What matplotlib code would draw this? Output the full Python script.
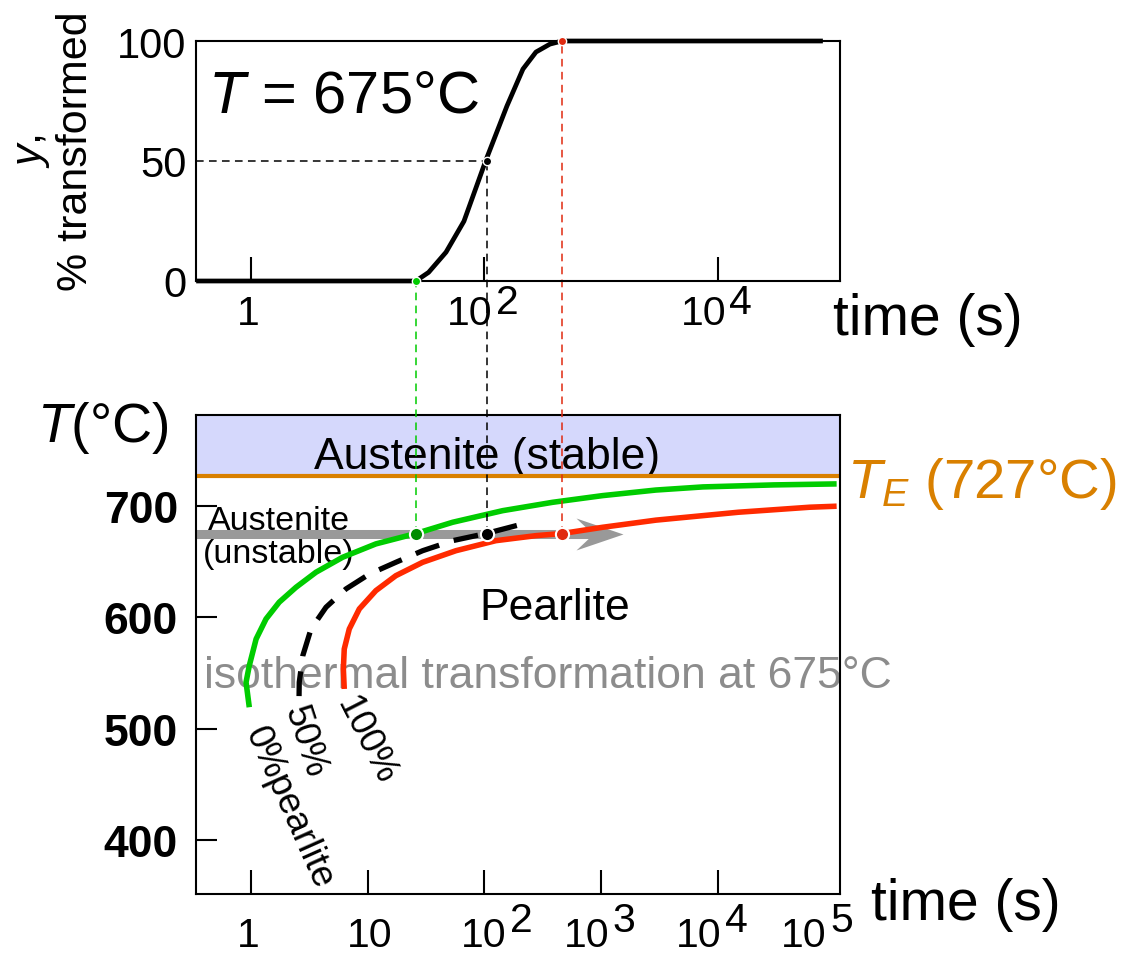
import matplotlib
matplotlib.use('Agg')
import matplotlib.pyplot as plt
from matplotlib.path import Path
from matplotlib.transforms import blended_transform_factory
import numpy as np

plt.rcParams['font.family'] = ['Liberation Sans', 'DejaVu Sans']
plt.rcParams['mathtext.fontset'] = 'custom'
plt.rcParams['mathtext.rm'] = 'Liberation Sans'
plt.rcParams['mathtext.it'] = 'Liberation Sans:italic'
plt.rcParams['mathtext.bf'] = 'Liberation Sans:bold'

# ---- data ----
# top panel: fraction transformed at 675 C
frac_time = [0.34, 26, 33.4, 47.1, 67.1, 103.6, 156.7, 215, 278, 366, 465, 8.0e4]
frac_val = [0, 0, 3.6, 12.0, 24.9, 50.4, 72.9, 88.3, 95.4, 98.7, 100, 100]

# bottom panel: TTT curves (time in s, temperature in C)
start_time = [0.97, 0.91, 0.97, 1.11, 1.35, 1.75, 2.44, 3.62, 6.12, 11.8, 26, 53.7, 144, 386,
              1036, 2965, 7500, 30400, 1.05e5]
start_temp = [519.2, 541.6, 556.5, 580.4, 598.4, 613.4, 626.8, 640.3, 653.7, 665.7, 675, 685.1,
              695.5, 703.0, 709.0, 714.0, 716.8, 718.6, 719.5]

half_time = [2.59, 2.6, 2.79, 3.28, 4.41, 6.54, 10.4, 17.5, 29.7, 53.7, 103.6, 243]
half_temp = [529.2, 541.6, 565.5, 589.4, 608.9, 625.3, 638.7, 649.2, 659.6, 668.6, 675, 685.1]

end_time = [6.32, 6.21, 6.32, 6.98, 8.51, 11.8, 17.5, 29.7, 57.3, 126, 278, 465, 1036, 2965,
            15140, 61900, 1.05e5]
end_temp = [535.6, 553.5, 571.4, 589.4, 607.4, 623.8, 637.2, 649.2, 659.6, 668.6, 673.1, 675,
            680.6, 687.0, 694.1, 698.6, 699.5]

T_iso = 675
T_eut = 727
t0, t50, t100 = 26, 105, 465
arrow_tip = 1550
arrow_shaft_end = 908

top_ticks = [1, 1e2, 1e4]
top_labels = [('1', ''), ('10', '2'), ('10', '4')]
top_label_shift = [-1.5, 0, 0]
bot_ticks = [1, 10, 1e2, 1e3, 1e4]
bot_label_pos = [1, 10, 1e2, 1e3, 1e4, 1e5]
bot_labels = [('1', ''), ('10', ''), ('10', '2'), ('10', '3'), ('10', '4'), ('10', '5')]
bot_label_shift = [-1.5, 1.5, 10, 0, -3.5, -11.5]
temp_ticks = [400, 500, 600, 700]

green = '#00cc00'
dkgreen = '#008c00'
red = '#ff2a00'
dkred = '#e02a10'
orange = '#d98000'
lav = '#d5d8fc'
grey = '#999999'

W, H = 1129, 954
fig = plt.figure(figsize=(W / 100, H / 100), dpi=100)


def fx(p):
    return p / W


def fy(p):
    return 1 - p / H


ax_bot = fig.add_axes([fx(196), fy(895), (840 - 196) / W, (895 - 416) / H])
ax_top = fig.add_axes([fx(196), fy(282), (840 - 196) / W, (282 - 42) / H])
ax_top.set_zorder(2)
ax_top.patch.set_alpha(0)

xl = (10 ** -0.47, 10 ** 5.05)
for ax in (ax_top, ax_bot):
    ax.set_xscale('log')
    ax.set_xlim(xl)
    for s in ax.spines.values():
        s.set_linewidth(1.5)
    ax.minorticks_off()

ax_top.set_ylim(0, 100)
ax_bot.set_ylim(351.7, 781.3)

# ---- top panel ----
ax_top.plot(frac_time, frac_val, color='black', lw=3.4, solid_capstyle='butt', solid_joinstyle='round',
            zorder=3, clip_on=False)
ax_top.plot([xl[0], t50], [50, 50], color='black', lw=1.1, ls=(0, (5, 3.5)), zorder=2)
ax_top.plot([t0], [0], 'o', ms=6, color=green, mec='white', mew=1, zorder=5, clip_on=False)
ax_top.plot([t50], [50], 'o', ms=6, color='black', mec='white', mew=1, zorder=5, clip_on=False)
ax_top.plot([t100], [100], 'o', ms=6, color=dkred, mec='white', mew=1, zorder=5, clip_on=False)

ax_top.set_xticks(top_ticks)
ax_top.set_xticklabels([])
ax_top.tick_params(axis='x', direction='in', length=17, width=1.5)
ax_top.set_yticks([0, 50, 100])
ax_top.set_yticklabels(['0', '50', '100'], fontsize=30)
ax_top.tick_params(axis='y', length=0, pad=7)

ax_top.text(fx(343), fy(97), '$T$ = 675°C', transform=fig.transFigure, fontsize=43,
            ha='center', va='center')


def time_labels(ax, ticks, labels, shifts, yoff, rise, fs):
    tr = blended_transform_factory(ax.transData, ax.transAxes)
    for t, (base, ex), dx in zip(ticks, labels, shifts):
        if not ex:
            ax.annotate(base, (t, 0), xycoords=tr, xytext=(dx, yoff), textcoords='offset points',
                        ha='center', va='center', fontsize=fs, annotation_clip=False)
        else:
            ax.annotate(base, (t, 0), xycoords=tr, xytext=(dx + 0.21 * fs, yoff), textcoords='offset points',
                        ha='right', va='center', fontsize=fs, annotation_clip=False)
            ax.annotate(ex, (t, 0), xycoords=tr, xytext=(dx + 0.29 * fs, yoff + rise), textcoords='offset points',
                        ha='left', va='center', fontsize=fs, annotation_clip=False)


time_labels(ax_top, top_ticks, top_labels, top_label_shift, -23, 8, 29.5)
fig.text(fx(833), fy(320), 'time (s)', fontsize=41, ha='left', va='center')
fig.text(fx(54), fy(151), '$y$,\n% transformed', rotation=90, fontsize=31, ha='center', va='center',
         multialignment='center', linespacing=1.1)

# ---- bottom panel ----
ax_bot.axhspan(T_eut, 781.3, color=lav, lw=0, zorder=0.5)
ax_bot.axhline(T_eut, color=orange, lw=3, zorder=2)

# isothermal arrow
ax_bot.plot([xl[0], arrow_shaft_end], [T_iso, T_iso], color=grey, lw=6.5, solid_capstyle='butt', zorder=2.5)
head = Path([(0, 0), (-47, 16), (-30, 0), (-47, -16), (0, 0)],
            [Path.MOVETO, Path.LINETO, Path.LINETO, Path.LINETO, Path.CLOSEPOLY])
ax_bot.plot([arrow_tip], [T_iso], marker=head, ms=67.7, color=grey, mew=0, zorder=2.5, clip_on=False)

ax_bot.plot(start_time, start_temp, color=green, lw=4, zorder=3, solid_capstyle='butt', solid_joinstyle='round')
ax_bot.plot(half_time, half_temp, color='black', lw=3.8, ls=(0, (4.7, 2.9)), zorder=3)
ax_bot.plot(end_time, end_temp, color=red, lw=4, zorder=3, solid_capstyle='butt', solid_joinstyle='round')

# dashed connectors from top panel points down to the isotherm
for t, v, c in [(t0, 0, green), (t50, 50, 'black'), (t100, 100, dkred)]:
    disp = ax_top.transData.transform((t, v))
    _, ytop = ax_bot.transData.inverted().transform(disp)
    ax_bot.plot([t, t], [T_iso, ytop], color=c, lw=1.1, ls=(0, (5, 3.5)), zorder=3.5, clip_on=False)

ax_bot.plot([t0], [T_iso], 'o', ms=9.5, color=dkgreen, mec='white', mew=1.5, zorder=5)
ax_bot.plot([t50], [T_iso], 'o', ms=9.5, color='black', mec='white', mew=1.5, zorder=5)
ax_bot.plot([t100], [T_iso], 'o', ms=9.5, color=dkred, mec='white', mew=1.5, zorder=5)

ax_bot.set_xticks(bot_ticks)
ax_bot.set_xticklabels([])
ax_bot.tick_params(axis='x', direction='in', length=17, width=1.5)
ax_bot.set_yticks(temp_ticks)
ax_bot.set_yticklabels([str(v) for v in temp_ticks], fontsize=32, fontweight='bold')
ax_bot.tick_params(axis='y', direction='in', length=15, width=1.5, pad=13)
time_labels(ax_bot, bot_label_pos, bot_labels, bot_label_shift, -29.5, 10.8, 29.5)

tf = fig.transFigure
ax_bot.text(fx(487), fy(457), 'Austenite (stable)', transform=tf, fontsize=32, ha='center', va='center', zorder=1.5)
ax_bot.text(fx(279), fy(538), 'Austenite\n(unstable)', transform=tf, fontsize=24.5, ha='center', va='center',
            linespacing=1.05, zorder=1.5)
ax_bot.text(fx(555), fy(609), 'Pearlite', transform=tf, fontsize=32, ha='center', va='center', zorder=1.5)
ax_bot.text(fx(548), fy(676), 'isothermal transformation at 675°C', transform=tf, fontsize=32,
            color='#8c8c8c', ha='center', va='center', zorder=1.5, clip_on=False)
ax_bot.text(fx(289), fy(808), '0%pearlite', transform=tf, fontsize=26.5, rotation=-66,
            rotation_mode='anchor', ha='center', va='center', zorder=1.5, clip_on=False)
ax_bot.text(fx(305), fy(742), '50%', transform=tf, fontsize=26.5, rotation=-72,
            rotation_mode='anchor', ha='center', va='center', zorder=1.5, clip_on=False)
ax_bot.text(fx(366), fy(740), '100%', transform=tf, fontsize=26.5, rotation=-63,
            rotation_mode='anchor', ha='center', va='center', zorder=1.5, clip_on=False)

fig.text(fx(37), fy(428), '$T$(°C)', fontsize=40, ha='left', va='center')
fig.text(fx(847), fy(498), '$T_E$ (727°C)', fontsize=40.5, color=orange, ha='left', va='baseline')
fig.text(fx(871), fy(905), 'time (s)', fontsize=41, ha='left', va='center')

fig.savefig('out.png', dpi=100)
